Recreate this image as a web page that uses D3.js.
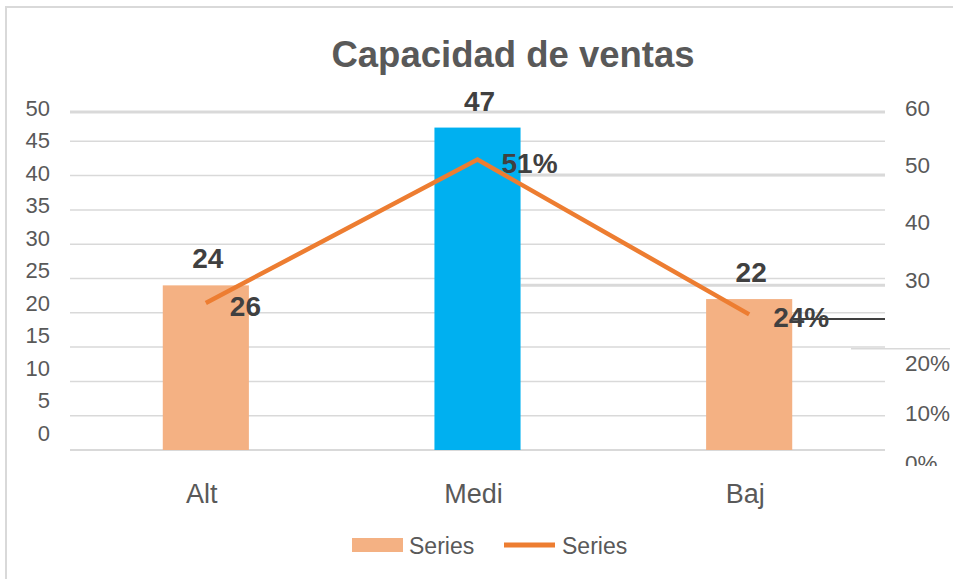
<!DOCTYPE html>
<html>
<head>
<meta charset="utf-8">
<script src="https://cdn.jsdelivr.net/npm/d3@7"></script>
<style>
  body { margin: 0; background: #fff; }
  text { font-family: "Liberation Sans", Arial, sans-serif; }
</style>
</head>
<body>
<script>
const categories = ["Alt", "Medi", "Baj"];
const barValues = [24, 47, 22];
const barColors = ["#F4B183", "#00B0F0", "#F4B183"];
const lineValues = [26, 51, 24];
const lineLabels = ["26", "51%", "24%"];
const leftTicks = [0, 5, 10, 15, 20, 25, 30, 35, 40, 45, 50];
const rightTicks = [30, 40, 50, 60];
const pctTicks = [0, 0.1, 0.2];
// stray rules drawn on the secondary (right) scale, starting after a category's bar
const strayRules = [
  { v: 59.3, after: null, color: "#d9d9d9", w: 3 },
  { v: 48.3, after: "Medi", color: "#d9d9d9", w: 3 },
  { v: 29.1, after: "Medi", color: "#d9d9d9", w: 3 },
  { v: 23.2, after: "Baj", color: "#404040", w: 2 }
];

const width = 953, height = 579;
const svg = d3.select("body").append("svg")
  .attr("width", width)
  .attr("height", height);

// chart border (only left and top visible)
svg.append("path")
  .attr("d", `M6,${height} L6,7 L${width},7`)
  .attr("fill", "none")
  .attr("stroke", "#d9d9d9")
  .attr("stroke-width", 2);

svg.append("text")
  .attr("x", 513)
  .attr("y", 67)
  .attr("text-anchor", "middle")
  .attr("font-size", 36.5)
  .attr("font-weight", "bold")
  .attr("fill", "#595959")
  .text("Capacidad de ventas");

const plotL = 70, plotR = 885;

const x = d3.scaleBand().domain(categories).range([plotL, plotR])
  .paddingInner(0.683).paddingOuter(0.3415);
const cx = c => x(c) + x.bandwidth() / 2;

const y = d3.scaleLinear().domain([0, 50]).range([450, 107]);
const yLabel = d3.scaleLinear().domain([0, 50]).range([433, 108]);
const yR = d3.scaleLinear().domain([0, 60]).range([452, 108]);
const yPct = d3.scaleLinear().domain([0, 0.2]).range([463, 363]);

// gridlines
svg.append("g")
  .selectAll("line")
  .data(leftTicks.filter(d => d < 50))
  .join("line")
  .attr("x1", plotL).attr("x2", plotR)
  .attr("y1", d => y(d)).attr("y2", d => y(d))
  .attr("stroke", "#d9d9d9")
  .attr("stroke-width", d => d === 0 ? 2 : 1.5);

svg.append("g")
  .selectAll("line")
  .data(strayRules)
  .join("line")
  .attr("x1", d => d.after ? x(d.after) + x.bandwidth() : plotL)
  .attr("x2", plotR)
  .attr("y1", d => yR(d.v)).attr("y2", d => yR(d.v))
  .attr("stroke", d => d.color)
  .attr("stroke-width", d => d.w);

svg.append("line")
  .attr("x1", 851).attr("x2", 950)
  .attr("y1", yR(18)).attr("y2", yR(18))
  .attr("stroke", "#d9d9d9")
  .attr("stroke-width", 1.5);

// left axis labels
svg.append("g")
  .attr("transform", "translate(50,0)")
  .call(d3.axisLeft(yLabel).tickValues(leftTicks).tickSize(0).tickPadding(0))
  .call(g => g.select(".domain").remove())
  .call(g => g.selectAll("text")
    .attr("font-size", 22)
    .attr("fill", "#595959")
    .attr("font-family", "Liberation Sans, Arial, sans-serif"));

// right axis labels
svg.append("g")
  .attr("transform", "translate(905,0)")
  .call(d3.axisRight(yR).tickValues(rightTicks).tickSize(0).tickPadding(0))
  .call(g => g.select(".domain").remove())
  .call(g => g.selectAll("text")
    .attr("font-size", 22.5)
    .attr("fill", "#595959")
    .attr("font-family", "Liberation Sans, Arial, sans-serif"));

svg.append("clipPath").attr("id", "pclip")
  .append("rect").attr("x", 880).attr("y", 330).attr("width", 80).attr("height", 136);

svg.append("g")
  .attr("clip-path", "url(#pclip)")
  .append("g")
  .attr("transform", "translate(905,0)")
  .call(d3.axisRight(yPct).tickValues(pctTicks).tickSize(0).tickPadding(0)
    .tickFormat(d3.format(".0%")))
  .call(g => g.select(".domain").remove())
  .call(g => g.selectAll("text")
    .attr("font-size", 22.5)
    .attr("fill", "#595959")
    .attr("font-family", "Liberation Sans, Arial, sans-serif"));

// bars
svg.append("g")
  .selectAll("rect")
  .data(categories)
  .join("rect")
  .attr("x", d => x(d))
  .attr("width", x.bandwidth())
  .attr("y", (d, i) => y(barValues[i]))
  .attr("height", (d, i) => y(0) - y(barValues[i]))
  .attr("fill", (d, i) => barColors[i]);

// x axis labels
svg.append("g")
  .selectAll("text")
  .data(categories)
  .join("text")
  .attr("x", d => cx(d) - 4)
  .attr("y", 503)
  .attr("text-anchor", "middle")
  .attr("font-size", 27)
  .attr("fill", "#595959")
  .text(d => d);

// line
const line = d3.line()
  .x((d, i) => cx(categories[i]))
  .y(d => yR(d));

svg.append("path")
  .datum(lineValues)
  .attr("d", line)
  .attr("fill", "none")
  .attr("stroke", "#ED7D31")
  .attr("stroke-width", 4.5);

// bar labels
svg.append("g")
  .selectAll("text")
  .data(categories)
  .join("text")
  .attr("x", d => cx(d) + 2)
  .attr("y", (d, i) => y(barValues[i]) - 17)
  .attr("text-anchor", "middle")
  .attr("font-size", 28)
  .attr("font-weight", "bold")
  .attr("fill", "#404040")
  .text((d, i) => barValues[i]);

// line labels
svg.append("g")
  .selectAll("text")
  .data(categories)
  .join("text")
  .attr("x", d => cx(d) + 24)
  .attr("y", (d, i) => yR(lineValues[i]) + 13)
  .attr("font-size", 28)
  .attr("font-weight", "bold")
  .attr("fill", "#404040")
  .text((d, i) => lineLabels[i]);

// legend
const lg = svg.append("g").attr("font-size", 23).attr("fill", "#595959");
lg.append("rect").attr("x", 352).attr("y", 538).attr("width", 51).attr("height", 14)
  .attr("fill", "#F4B183");
lg.append("text").attr("x", 409).attr("y", 554).text("Series");
lg.append("line").attr("x1", 504).attr("x2", 555).attr("y1", 545).attr("y2", 545)
  .attr("stroke", "#ED7D31").attr("stroke-width", 5);
lg.append("text").attr("x", 562).attr("y", 554).text("Series");
</script>
</body>
</html>
